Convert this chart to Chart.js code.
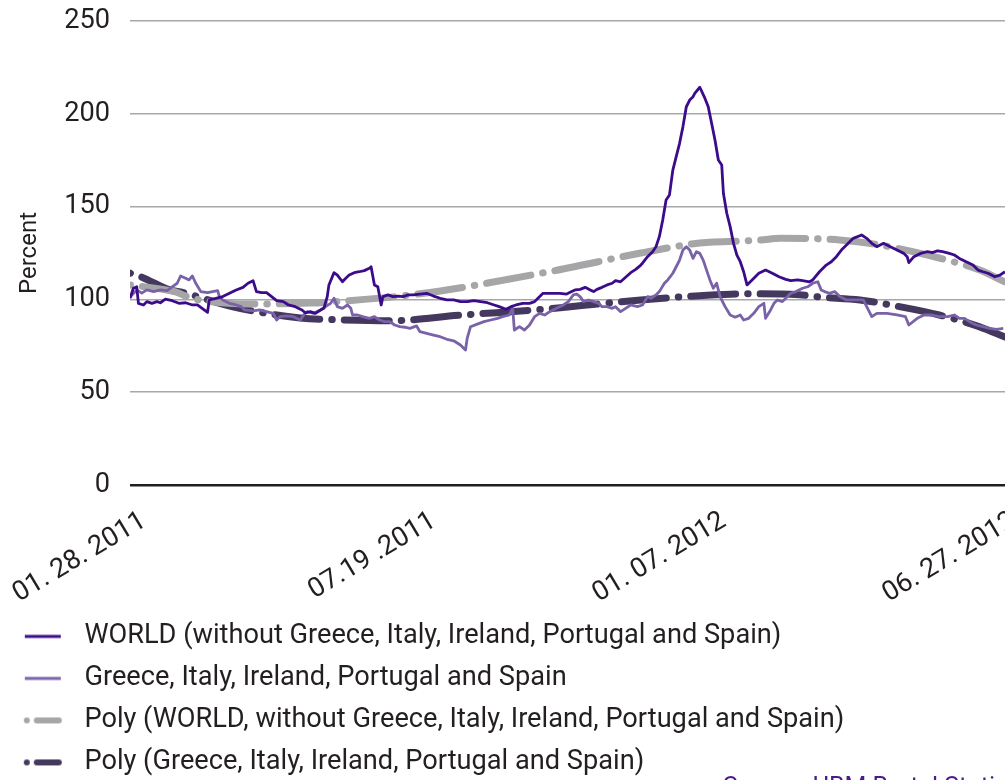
<!DOCTYPE html>
<html><head><meta charset="utf-8">
<script src="https://cdn.jsdelivr.net/npm/chart.js@4"></script>
<style>
html,body{margin:0;padding:0;background:#fff;overflow:hidden;width:1005px;height:780px;}
#wrap{position:absolute;left:0;top:0;width:1040px;}
#src{position:absolute;left:723px;top:772px;color:#4b1a8c;white-space:nowrap;line-height:1;}
</style></head><body>
<div id="wrap"><canvas id="c"></canvas></div>
<div id="src">Source: UBM Bertel Statistik</div>
<script>
// ---- data (x = day offset from 01.28.2011, y = percent) ----
const seriesNames = [
  'WORLD (without Greece, Italy, Ireland, Portugal and Spain)',
  'Greece, Italy, Ireland, Portugal and Spain',
  'Poly (WORLD, without Greece, Italy, Ireland, Portugal and Spain)',
  'Poly (Greece, Italy, Ireland, Portugal and Spain)'
];
const tickDays = [0, 172, 344, 516];
const tickLabels = ['01. 28. 2011', '07.19 .2011', '01. 07. 2012', '06. 27. 2012'];
const yTicks = [0, 50, 100, 150, 200, 250];

const worldDays = [0,2,4,5,8,10,13,16,18,21,25,29,33,37,40,44,46,47,51,55,59,63,67,70,73,75,78,81,84,87,91,94,98,102,104,107,110,113,115,117,118,121,123,126,128,130,133,136,139,142,143,145,147,149,150,153,156,159,162,165,168,172,176,180,184,188,192,196,200,204,208,212,216,219,223,226,229,233,237,240,242,245,249,251,255,259,262,264,267,270,273,275,277,280,283,286,288,291,294,297,300,303,304,307,310,312,314,316,318,320,322,324,326,328,330,332,334,335,338,341,343,345,347,349,351,352,354,356,358,360,362,364,366,369,373,377,381,385,389,392,396,399,403,405,409,413,416,419,422,425,429,434,437,440,443,447,451,455,459,461,462,465,469,473,476,479,482,486,489,492,496,500,503,506,509,513,516,519];
const worldValues = [100.6,106.0,106.8,97.9,97.0,98.8,97.9,98.8,98.2,100.1,99.3,97.9,98.2,97.0,97.0,94.3,93.0,99.7,100.6,101.5,103.3,105.1,106.5,108.7,110.1,104.2,103.6,103.6,101.5,99.3,98.8,97.0,96.1,94.3,92.8,93.4,92.5,94.3,95.2,101.5,107.8,114.4,113.1,109.5,111.4,113.1,114.4,114.9,115.5,116.8,117.6,107.8,106.8,97.0,101.5,102.4,101.5,101.8,101.5,102.4,102.4,102.9,103.3,101.8,100.6,99.7,99.7,98.8,98.8,99.3,98.8,98.2,97.0,96.1,94.7,96.1,97.0,97.9,97.9,98.8,100.6,103.3,103.3,103.3,103.3,102.9,104.2,105.1,105.4,106.5,105.1,104.2,105.4,106.5,107.8,108.7,110.1,109.5,111.9,114.4,116.2,118.5,119.5,123.0,125.7,128.4,133.8,142.8,153.6,156.3,169.7,176.9,184.1,193.1,203.8,207.4,209.2,211.0,214.3,208.4,203.8,194.9,185.9,175.1,172.4,157.2,146.4,139.2,130.2,123.9,120.3,114.9,107.8,110.5,114.1,115.8,114.1,112.2,110.8,110.1,110.5,110.1,109.5,110.5,114.9,118.5,120.3,123.0,126.6,129.3,132.9,134.7,132.9,130.2,128.4,130.2,128.4,126.6,124.8,123.0,119.8,123.0,124.8,125.7,125.2,126.2,125.7,124.8,123.9,122.1,120.3,118.5,115.8,114.9,114.1,112.2,113.1,114.9];

const giipsDays = [0,4,7,10,14,18,22,25,28,30,33,35,37,39,42,46,49,52,53,55,59,63,66,68,73,77,81,85,87,89,93,97,101,103,105,109,113,116,119,121,123,126,129,131,132,135,138,142,145,148,151,154,157,160,163,166,170,172,176,180,184,188,192,196,199,200,202,206,210,214,218,221,225,227,228,231,234,237,240,243,246,249,253,257,260,263,265,267,269,272,275,278,280,283,286,288,291,294,297,301,304,307,309,312,314,317,319,322,324,326,328,330,332,334,336,338,340,342,344,346,348,350,353,356,359,362,364,367,370,373,376,377,380,382,384,387,390,392,395,399,402,405,408,410,412,415,418,421,425,431,435,437,440,443,449,455,460,462,467,471,475,480,485,489,492,495,498,502,506,510,514,518];
const giipsValues = [101.3,105.1,103.4,105.1,104.2,105.1,104.7,106.8,108.7,112.6,111.4,110.5,112.6,108.7,104.2,103.6,104.2,104.7,101.5,99.7,97.9,97.0,96.1,94.3,93.8,94.3,93.4,92.5,88.9,90.7,91.1,90.7,88.9,91.6,93.4,92.5,94.3,96.1,97.9,100.6,96.1,95.2,97.0,95.2,91.6,91.6,90.7,89.8,90.7,88.9,88.0,88.0,86.2,85.3,85.0,84.4,85.7,82.6,81.7,80.8,79.9,78.5,77.7,75.4,72.7,79.0,85.3,86.7,88.0,88.9,89.8,90.7,91.6,95.2,83.5,85.3,83.5,86.2,90.7,92.5,91.6,93.4,95.2,97.0,98.8,102.4,102.9,101.5,98.8,99.7,98.8,97.9,96.1,96.1,95.2,96.1,93.4,95.2,97.0,96.1,97.0,101.5,100.6,102.4,104.2,108.7,110.5,114.1,117.6,121.2,126.6,128.4,126.6,122.1,125.7,124.8,121.2,115.8,110.5,106.0,108.7,101.5,96.1,91.6,90.4,91.6,88.9,89.8,92.5,96.1,97.9,89.8,94.3,97.9,99.7,98.8,101.5,103.3,104.2,106.0,106.8,108.7,109.5,105.1,104.2,103.3,104.2,101.5,99.7,99.7,99.7,96.1,90.7,92.5,92.5,91.6,90.7,86.2,89.8,91.6,91.6,90.7,90.7,91.6,89.8,89.8,88.0,86.2,85.3,84.4,83.9,84.4];

const polyWorldDays = [0,27,36,71,107,119,172,249,303,329,338,374,386,421,445,480,504,519];
const polyWorldValues = [107.8,104.0,100.8,97.5,98.0,98.6,103.0,115.0,125.0,129.3,130.4,132.0,133.0,132.0,129.3,122.3,115.8,109.4];

const polyGiipsDays = [0,7,24,30,61,101,125,154,196,249,303,338,363,397,409,433,457,480,504,519];
const polyGiipsValues = [114.2,112.0,105.0,104.0,96.0,90.0,89.0,88.5,91.5,95.0,99.7,102.0,103.0,102.5,101.3,99.7,96.0,91.6,85.2,79.7];

// ---- font: narrowest normal-width sans, sized so legend line 1 spans ~697px ----
const TEXT = '#231f20';
const WEIGHT = 'normal';
const familyCandidates = ['Lato', 'Roboto', "'Noto Sans'", "'Open Sans'"];
const mctx = document.createElement('canvas').getContext('2d');
let bestFam = null, bestW = Infinity;
for (const f of familyCandidates) {
  mctx.font = 'normal 30px ' + f + ', monospace';
  const w = mctx.measureText(seriesNames[0]).width;
  if (w < bestW - 0.5) { bestW = w; bestFam = f; }
}
const FAM = bestFam + ', sans-serif';
const FS = Math.max(24, Math.min(31, Math.round(30 * 697 / bestW * 10) / 10));

// layout numbers
const ROW = 42, LPAD = ROW - FS;
const H = Math.round(784 + FS / 2);
const legendTop = H - 12 - (4 * ROW + 10);
const X_AXIS_H = legendTop - 485;

const cv = document.getElementById('c');
cv.width = 1040; cv.height = H;
document.getElementById('src').style.font = WEIGHT + ' ' + Math.round(FS * 0.92) + 'px ' + FAM;

const colors = ['#3b0b8a', '#7a62a8', '#a6a6a8', '#44385e'];
function pts(d, v) { return d.map((x, i) => ({ x: x, y: v[i] })); }

function legendIcon(color, dashed) {
  const c = document.createElement('canvas');
  c.width = 40; c.height = 8;
  const g = c.getContext('2d');
  g.strokeStyle = color; g.fillStyle = color;
  if (!dashed) {
    g.lineWidth = 3; g.beginPath(); g.moveTo(2, 4); g.lineTo(38, 4); g.stroke();
  } else {
    g.beginPath(); g.arc(4, 4, 3, 0, Math.PI * 2); g.fill();
    g.lineWidth = 6; g.lineCap = 'round';
    g.beginPath(); g.moveTo(14, 4); g.lineTo(36, 4); g.stroke();
  }
  return c;
}
const icons = [legendIcon(colors[0], false), legendIcon(colors[1], false), legendIcon(colors[2], true), legendIcon(colors[3], true)];
const dashPattern = [0.5, 12, 45, 12];
const font = { family: FAM, size: FS, weight: WEIGHT };

new Chart(cv, {
  type: 'line',
  data: {
    datasets: [
      { label: seriesNames[0], data: pts(worldDays, worldValues), borderColor: colors[0], borderWidth: 2.8, pointRadius: 0, tension: 0, borderJoinStyle: 'round' },
      { label: seriesNames[1], data: pts(giipsDays, giipsValues), borderColor: colors[1], borderWidth: 2.8, pointRadius: 0, tension: 0, borderJoinStyle: 'round' },
      { label: seriesNames[2], data: pts(polyWorldDays, polyWorldValues), borderColor: colors[2], borderWidth: 7, pointRadius: 0, cubicInterpolationMode: 'monotone', borderDash: dashPattern, borderCapStyle: 'round', borderJoinStyle: 'round' },
      { label: seriesNames[3], data: pts(polyGiipsDays, polyGiipsValues), borderColor: colors[3], borderWidth: 7, pointRadius: 0, cubicInterpolationMode: 'monotone', borderDash: dashPattern, borderCapStyle: 'round', borderJoinStyle: 'round' }
    ]
  },
  options: {
    responsive: false,
    animation: false,
    devicePixelRatio: 1,
    layout: { padding: { left: 0, right: 30, top: 21, bottom: 12 } },
    plugins: {
      tooltip: { enabled: false },
      legend: {
        position: 'bottom',
        align: 'start',
        labels: {
          usePointStyle: true,
          pointStyleWidth: 56,
          padding: LPAD,
          color: TEXT,
          font: font,
          generateLabels: (chart) => chart.data.datasets.map((ds, i) => ({
            text: ds.label, pointStyle: icons[i], fillStyle: 'rgba(0,0,0,0)', strokeStyle: 'rgba(0,0,0,0)',
            lineWidth: 0, hidden: false, datasetIndex: i, fontColor: TEXT
          }))
        }
      }
    },
    scales: {
      x: {
        type: 'linear', min: 0, max: 522,
        grid: { display: false },
        border: { display: false },
        afterBuildTicks: (s) => { s.ticks = tickDays.map(v => ({ value: v })); },
        afterFit: (s) => { s.height = X_AXIS_H; s.paddingLeft = 0; s.paddingRight = 0; },
        ticks: {
          autoSkip: false, minRotation: 31, maxRotation: 31, padding: 12, labelOffset: 14,
          color: TEXT, font: font,
          callback: (v, i) => tickLabels[i]
        }
      },
      y: {
        min: 0, max: 250,
        afterBuildTicks: (s) => { s.ticks = yTicks.map(v => ({ value: v })); },
        afterFit: (s) => { s.width = 130; s.paddingTop = 0; s.paddingBottom = 0; },
        border: { display: false },
        grid: {
          drawTicks: false,
          color: (c) => (c.tick && c.tick.value === 0) ? TEXT : '#a8a8a8',
          lineWidth: (c) => (c.tick && c.tick.value === 0) ? 2.5 : 1.5
        },
        ticks: { padding: 20, color: TEXT, font: font },
        title: { display: true, text: 'Percent', color: TEXT, font: { family: FAM, size: 24, weight: 'normal' }, padding: { top: 16, bottom: 0 } }
      }
    }
  }
});
</script>
</body></html>
